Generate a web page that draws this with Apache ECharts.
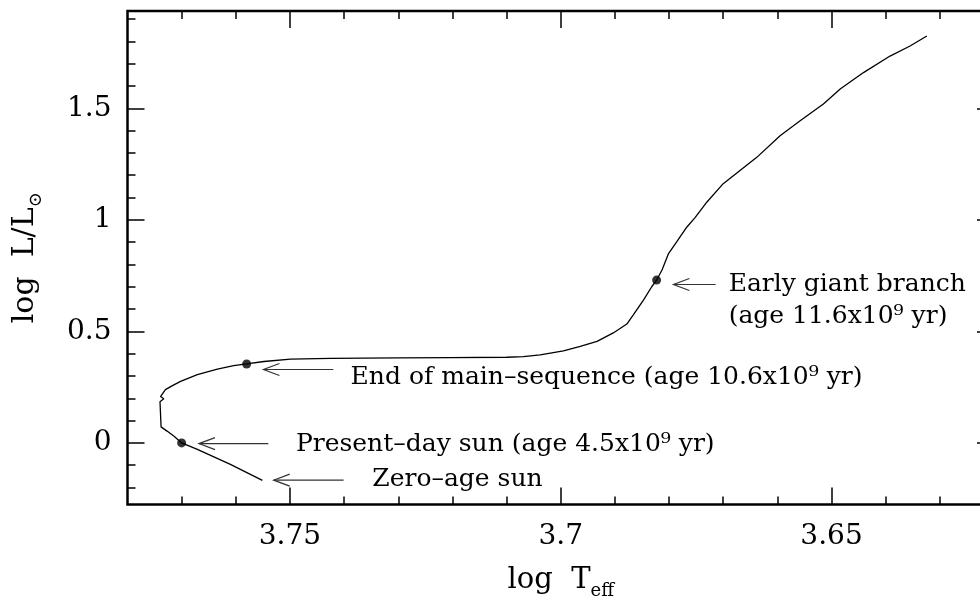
<!DOCTYPE html>
<html>
<head>
<meta charset="utf-8">
<script src="https://cdn.jsdelivr.net/npm/echarts@6/dist/echarts.min.js"></script>
<style>
  html, body { margin: 0; padding: 0; background: #fff; }
  #chart { width: 980px; height: 600px; }
</style>
</head>
<body>
<div id="chart"></div>
<script>
// evolutionary track of the sun (log Teff, log L/Lsun), from zero-age sun upwards
const logT = [
  3.7551, 3.7610, 3.7671, 3.7700, 3.7714, 3.7727, 3.7738, 3.7740, 3.7740, 3.7733,
  3.7739, 3.7730, 3.7717, 3.7702, 3.7671, 3.7634, 3.7604, 3.7580, 3.7548, 3.7499,
  3.7425, 3.7300, 3.7204, 3.7100, 3.7069, 3.7038, 3.6995, 3.6964, 3.6933, 3.6903,
  3.6878, 3.6866, 3.6847, 3.6832, 3.6823, 3.6813, 3.6801, 3.6786, 3.6767, 3.6752,
  3.6730, 3.6700, 3.6669, 3.6638, 3.6595, 3.6558, 3.6515, 3.6484, 3.6441, 3.6392,
  3.6355, 3.6324
]
const logL = [
  -0.168, -0.096, -0.029, 0.000, 0.030, 0.053, 0.072, 0.080, 0.185, 0.198,
  0.208, 0.239, 0.257, 0.276, 0.306, 0.331, 0.346, 0.354, 0.365, 0.376,
  0.379, 0.381, 0.382, 0.384, 0.387, 0.395, 0.413, 0.433, 0.455, 0.493,
  0.533, 0.574, 0.641, 0.700, 0.730, 0.775, 0.849, 0.901, 0.968, 1.010,
  1.080, 1.162, 1.221, 1.280, 1.377, 1.444, 1.519, 1.586, 1.660, 1.734,
  1.779, 1.824
]

// marked stages: present-day sun, end of main sequence, early giant branch
const dotT = [3.7700, 3.7580, 3.6823]
const dotL = [0.000, 0.354, 0.730]

// arrows (tip, tail, height) and the notes next to them
const arrowTip = [3.7530, 3.7668, 3.7549, 3.6792]
const arrowTail = [3.7401, 3.7540, 3.7420, 3.6714]
const arrowL = [-0.167, -0.003, 0.329, 0.710]

const noteText = [
  'Zero\u2013age sun',
  'Present\u2013day sun (age 4.5x10\u2079 yr)',
  'End of main\u2013sequence (age 10.6x10\u2079 yr)',
  'Early giant branch',
  '(age 11.6x10\u2079 yr)'
]
const noteT = [3.7348, 3.7489, 3.7388, 3.6690, 3.6690]
const noteL = [-0.163, -0.006, 0.295, 0.711, 0.568]

// axis ticks
const xMajor = [3.75, 3.7, 3.65]
const xMinor = [3.77, 3.76, 3.74, 3.73, 3.72, 3.71, 3.69, 3.68, 3.67, 3.66, 3.64, 3.63]
const yMajor = [0, 0.5, 1, 1.5]
const yMinor = [-0.2, -0.1, 0.1, 0.2, 0.3, 0.4, 0.6, 0.7, 0.8, 0.9, 1.1, 1.2, 1.3, 1.4, 1.6, 1.7, 1.8, 1.9]

const xMin = 3.62
const xMax = 3.78
const yMin = -0.276
const yMax = 1.936

const font = 'DejaVu Serif'

function xAxisPart(position, ticks, len, withLabel) {
  return {
    type: 'value',
    position: position,
    min: xMin,
    max: xMax,
    inverse: true,
    axisLine: { show: false, onZero: false },
    splitLine: { show: false },
    axisTick: { show: true, inside: true, length: len, customValues: ticks, lineStyle: { color: '#000', width: 1.5 } },
    axisLabel: withLabel
      ? { show: true, customValues: ticks, margin: 18, fontSize: 28, color: '#000', fontFamily: font }
      : { show: false },
    name: withLabel ? '{a|log  T}{s|eff}' : '',
    nameLocation: 'middle',
    nameGap: 56,
    nameTextStyle: {
      rich: {
        a: { fontSize: 29, fontFamily: font, color: '#000', lineHeight: 40, verticalAlign: 'middle' },
        s: { fontSize: 18, fontFamily: font, color: '#000', lineHeight: 14, verticalAlign: 'bottom' }
      }
    }
  }
}

function yAxisPart(position, ticks, len, withLabel) {
  return {
    type: 'value',
    position: position,
    min: yMin,
    max: yMax,
    axisLine: { show: false, onZero: false },
    splitLine: { show: false },
    axisTick: { show: true, inside: true, length: len, customValues: ticks, lineStyle: { color: '#000', width: 1.5 } },
    axisLabel: withLabel
      ? { show: true, customValues: ticks, margin: 16, fontSize: 28, color: '#000', fontFamily: font }
      : { show: false },
    name: withLabel ? '{a|log  L/L}{s|\u2299}' : '',
    nameLocation: 'middle',
    nameGap: 82,
    nameRotate: 90,
    nameTextStyle: {
      rich: {
        a: { fontSize: 30, fontFamily: font, color: '#000', lineHeight: 40, verticalAlign: 'middle' },
        s: { fontSize: 18, fontFamily: font, color: '#000', lineHeight: 14, verticalAlign: 'bottom' }
      }
    }
  }
}

const chart = echarts.init(document.getElementById('chart'))

const option = {
  animation: false,
  backgroundColor: '#fff',
  textStyle: { fontFamily: font },
  grid: {
    left: 127.5,
    right: -14,
    top: 11,
    bottom: 95.5,
    outerBoundsMode: 'none',
    containLabel: false,
    show: true,
    borderColor: '#000',
    borderWidth: 2.5,
    backgroundColor: 'transparent'
  },
  xAxis: [
    xAxisPart('bottom', xMinor, 8, false),
    xAxisPart('bottom', xMajor, 17, true),
    xAxisPart('top', xMinor, 8, false),
    xAxisPart('top', xMajor, 17, false)
  ],
  yAxis: [
    yAxisPart('left', yMinor, 8, false),
    yAxisPart('left', yMajor, 17, true),
    yAxisPart('right', yMinor, 8, false),
    yAxisPart('right', yMajor, 17, false)
  ],
  series: [
    {
      name: 'track',
      type: 'line',
      xAxisIndex: 0,
      yAxisIndex: 0,
      showSymbol: false,
      lineStyle: { color: '#000', width: 1.3 },
      data: logT.map((t, i) => [t, logL[i]])
    },
    {
      name: 'stages',
      type: 'scatter',
      xAxisIndex: 0,
      yAxisIndex: 0,
      symbol: 'circle',
      symbolSize: 9,
      itemStyle: { color: '#000' },
      data: dotT.map((t, i) => [t, dotL[i]])
    },
    {
      name: 'arrows',
      type: 'custom',
      xAxisIndex: 0,
      yAxisIndex: 0,
      encode: { x: [0, 1], y: 2 },
      data: arrowTip.map((t, i) => [t, arrowTail[i], arrowL[i]]),
      renderItem(params, api) {
        const tip = api.coord([api.value(0), api.value(2)])
        const tail = api.coord([api.value(1), api.value(2)])
        const style = { stroke: '#333', lineWidth: 1.2, fill: null }
        return {
          type: 'group',
          children: [
            { type: 'line', shape: { x1: tip[0], y1: tip[1], x2: tail[0], y2: tail[1] }, style: style },
            {
              type: 'polyline',
              shape: { points: [[tip[0] + 16, tip[1] - 6], [tip[0], tip[1]], [tip[0] + 16, tip[1] + 6]] },
              style: style
            }
          ]
        }
      }
    },
    {
      name: 'notes',
      type: 'custom',
      xAxisIndex: 0,
      yAxisIndex: 0,
      data: noteT.map((t, i) => [t, noteL[i]]),
      renderItem(params, api) {
        const p = api.coord([api.value(0), api.value(1)])
        return {
          type: 'text',
          x: p[0],
          y: p[1],
          style: {
            text: noteText[params.dataIndex],
            fontSize: 25,
            fontFamily: font,
            fill: '#000',
            align: 'left',
            verticalAlign: 'middle'
          }
        }
      }
    }
  ]
}

chart.setOption(option)
</script>
</body>
</html>
